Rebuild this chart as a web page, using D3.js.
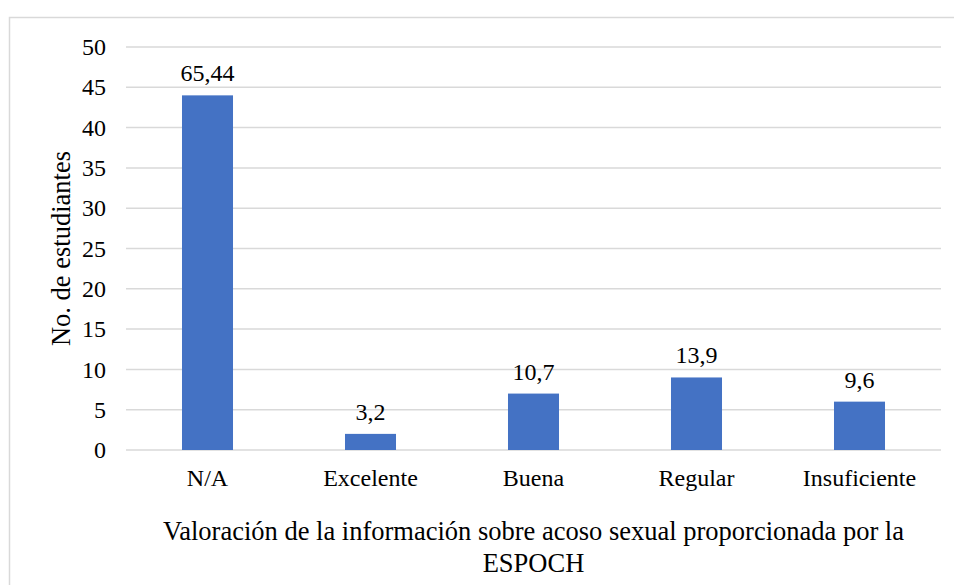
<!DOCTYPE html>
<html>
<head>
<meta charset="utf-8">
<script src="https://cdn.jsdelivr.net/npm/d3@7"></script>
<style>
  body { margin: 0; background: #fff; }
  text { font-family: "Liberation Serif", "Times New Roman", serif; fill: #000; }
</style>
</head>
<body>
<svg id="fig" width="954" height="585"></svg>
<script>
// data
var categories = ["N/A", "Excelente", "Buena", "Regular", "Insuficiente"];
var counts = [44, 2, 7, 9, 6];
var labels = ["65,44", "3,2", "10,7", "13,9", "9,6"];
var yTicks = [0, 5, 10, 15, 20, 25, 30, 35, 40, 45, 50];

var svg = d3.select("#fig");

// outer chart frame
svg.append("rect")
   .attr("x", 9.5).attr("y", 17.5)
   .attr("width", 960).attr("height", 600)
   .attr("fill", "none")
   .attr("stroke", "#d9d9d9")
   .attr("stroke-width", 1.5);

var plotLeft = 126, plotRight = 941, plotTop = 47, plotBottom = 450;

var x = d3.scaleBand().domain(categories).range([plotLeft, plotRight]).paddingInner(0.687).paddingOuter(0.3435);
var y = d3.scaleLinear().domain([0, 50]).range([plotBottom, plotTop]);

// gridlines
svg.append("g")
   .selectAll("line").data(yTicks).enter()
   .append("line")
   .attr("x1", plotLeft).attr("x2", plotRight)
   .attr("y1", d => y(d)).attr("y2", d => y(d))
   .attr("stroke", "#d9d9d9")
   .attr("stroke-width", 1.5);

// y axis labels
var yAxis = svg.append("g")
   .attr("transform", "translate(" + plotLeft + ",0)")
   .call(d3.axisLeft(y).tickValues(yTicks).tickSize(0).tickPadding(20));
yAxis.select(".domain").remove();
yAxis.selectAll("text").style("font-family", "Liberation Serif").attr("font-size", 24).attr("fill", "#000");

// bars
svg.append("g")
   .selectAll("rect").data(counts).enter()
   .append("rect")
   .attr("x", (d, i) => x(categories[i]))
   .attr("y", d => y(d))
   .attr("width", x.bandwidth())
   .attr("height", d => y(0) - y(d))
   .attr("fill", "#4472c4");

// value labels
svg.append("g")
   .selectAll("text").data(counts).enter()
   .append("text")
   .attr("x", (d, i) => x(categories[i]) + x.bandwidth() / 2)
   .attr("y", d => y(d) - 14)
   .attr("text-anchor", "middle")
   .attr("font-size", 24)
   .text((d, i) => labels[i]);

// x axis labels
var xAxis = svg.append("g")
   .attr("transform", "translate(0," + plotBottom + ")")
   .call(d3.axisBottom(x).tickSize(0).tickPadding(19));
xAxis.select(".domain").remove();
xAxis.selectAll("text").style("font-family", "Liberation Serif").attr("font-size", 24).attr("fill", "#000");

// axis titles
svg.append("text")
   .attr("x", (plotLeft + plotRight) / 2).attr("y", 540)
   .attr("text-anchor", "middle")
   .attr("font-size", 26.5)
   .text("Valoración de la información sobre acoso sexual proporcionada por la");
svg.append("text")
   .attr("x", (plotLeft + plotRight) / 2).attr("y", 572)
   .attr("text-anchor", "middle")
   .attr("font-size", 26.5)
   .text("ESPOCH");

svg.append("text")
   .attr("transform", "translate(70," + ((plotTop + plotBottom) / 2) + ") rotate(-90)")
   .attr("text-anchor", "middle")
   .attr("font-size", 26.5)
   .text("No. de estudiantes");
</script>
</body>
</html>
